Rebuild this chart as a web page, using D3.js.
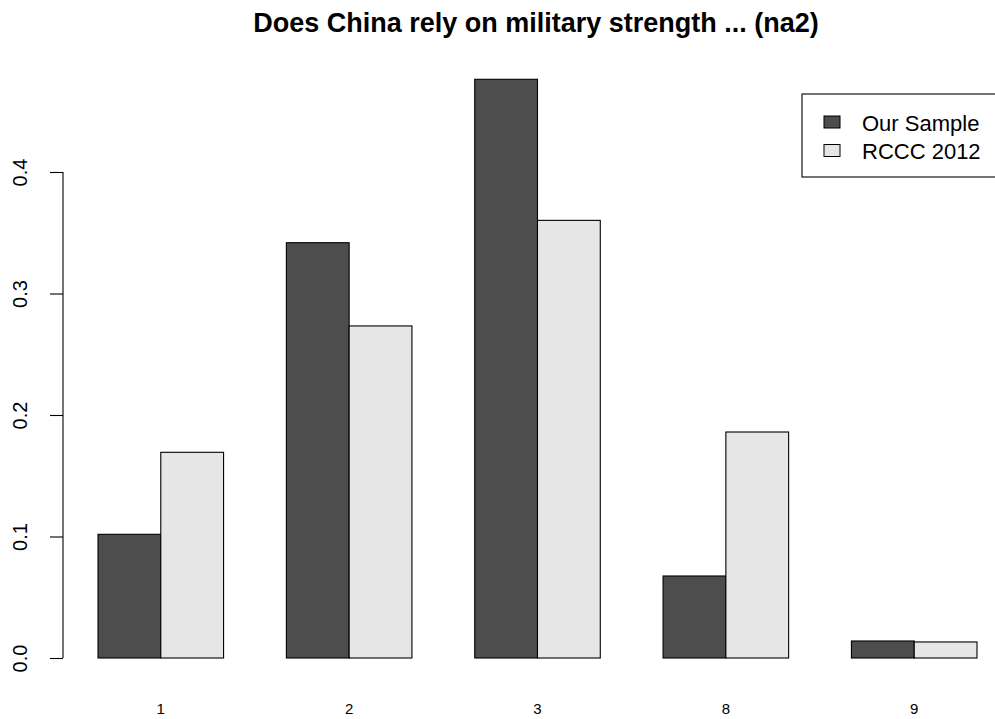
<!DOCTYPE html>
<html>
<head>
<meta charset="utf-8">
<script src="https://cdn.jsdelivr.net/npm/d3@7"></script>
<style>
  html, body { margin: 0; padding: 0; background: #fff; }
  svg { display: block; font-family: "Liberation Sans", Arial, sans-serif; }
</style>
</head>
<body>
<svg id="chart" width="995" height="719"></svg>
<script>
// ---- data ----
const title = "Does China rely on military strength ... (na2)";
const categories = ["1", "2", "3", "8", "9"];
const seriesNames = ["Our Sample", "RCCC 2012"];
const ourSample = [0.1018, 0.3418, 0.4763, 0.0675, 0.0140];
const rccc2012 = [0.1693, 0.2733, 0.3602, 0.1860, 0.0132];
const yTicks = [0.0, 0.1, 0.2, 0.3, 0.4];
const seriesColors = ["#4d4d4d", "#e6e6e6"];

const seriesValues = [ourSample, rccc2012];
const rows = categories.map((c, i) => ({
  cat: c,
  vals: seriesNames.map((s, j) => ({ series: s, idx: j, value: seriesValues[j][i] }))
}));

const svg = d3.select("#chart");

const x0 = d3.scaleBand().domain(categories).range([98, 977])
  .paddingInner(1 / 3).paddingOuter(0);
const x1 = d3.scaleBand().domain(seriesNames).range([0, x0.bandwidth()]).padding(0);
const y = d3.scaleLinear().domain([0, 0.4]).range([658, 172]);

// bars
const groups = svg.append("g").selectAll("g").data(rows).join("g")
  .attr("transform", d => `translate(${x0(d.cat)},0)`);
groups.selectAll("rect").data(d => d.vals).join("rect")
  .attr("x", d => x1(d.series))
  .attr("y", d => y(d.value))
  .attr("width", x1.bandwidth())
  .attr("height", d => y(0) - y(d.value))
  .attr("fill", d => seriesColors[d.idx])
  .attr("stroke", "#000")
  .attr("stroke-width", 1.1);

// y axis
const yAxis = d3.axisLeft(y).tickValues(yTicks).tickSize(13).tickFormat(d3.format(".1f"));
const ya = svg.append("g").attr("transform", "translate(63,0)").call(yAxis);
ya.select(".domain").attr("d", `M0,${y(0)}V${y(0.4)}`).attr("stroke", "#000").attr("stroke-width", 1.1);
ya.selectAll(".tick line").attr("stroke", "#000").attr("stroke-width", 1.1);
ya.selectAll(".tick text").remove();
ya.selectAll(".tick").append("text")
  .attr("transform", "translate(-36,0) rotate(-90)")
  .attr("text-anchor", "middle")
  .attr("fill", "#000")
  .attr("font-size", 20)
  .attr("font-family", "Liberation Sans, Arial, sans-serif")
  .text(d => d3.format(".1f")(d));

// x category labels
svg.append("g").selectAll("text").data(categories).join("text")
  .attr("x", d => x0(d) + x0.bandwidth() / 2)
  .attr("y", 714)
  .attr("text-anchor", "middle")
  .attr("font-size", 15)
  .attr("fill", "#000")
  .text(d => d);

// title
svg.append("text")
  .attr("x", 536).attr("y", 32)
  .attr("text-anchor", "middle")
  .attr("font-size", 27)
  .attr("font-weight", "bold")
  .attr("fill", "#000")
  .text(title);

// legend
const lg = svg.append("g");
lg.append("rect")
  .attr("x", 802).attr("y", 94).attr("width", 220).attr("height", 83)
  .attr("fill", "#fff").attr("stroke", "#000").attr("stroke-width", 1.1);
const items = lg.selectAll("g.item").data(seriesNames).join("g").attr("class", "item")
  .attr("transform", (d, i) => `translate(0,${i * 28.5})`);
items.append("rect")
  .attr("x", 824).attr("y", 116).attr("width", 16).attr("height", 12)
  .attr("fill", (d, i) => seriesColors[i]).attr("stroke", "#000").attr("stroke-width", 1);
items.append("text")
  .attr("x", 862).attr("y", 130.5)
  .attr("font-size", 22)
  .attr("fill", "#000")
  .text(d => d);
</script>
</body>
</html>
